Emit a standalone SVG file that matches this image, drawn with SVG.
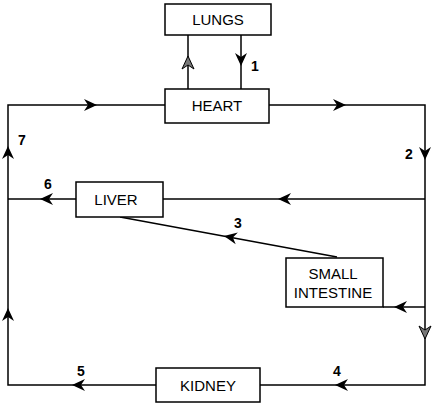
<svg xmlns="http://www.w3.org/2000/svg" width="434" height="407" viewBox="0 0 434 407">
<style>
.box{fill:#fff;stroke:#000;stroke-width:1.5}
.ln{fill:none;stroke:#000;stroke-width:1.5}
.lbl{font-family:"Liberation Sans",Arial,sans-serif;font-size:15px;fill:#000;text-anchor:middle}
.num{font-family:"Liberation Sans",Arial,sans-serif;font-size:14px;font-weight:bold;fill:#000;text-anchor:middle}
.ah{fill:#000}
.ahh{fill:#777;stroke:#000;stroke-width:1}
</style>
<defs>
<path id="arr" d="M0,0 L-13,-6 L-9,0 L-13,6 Z"/>
</defs>
<rect width="434" height="407" fill="#fff"/>
<g id="connectors">
<path class="ln" d="M188,89 V35"/>
<path class="ln" d="M241,35 V89"/>
<path class="ln" d="M269,105 H425 V385 H260"/>
<path class="ln" d="M156,385 H8 V105 H165"/>
<path class="ln" d="M76,199 H8"/>
<path class="ln" d="M163,199 H425" stroke-width="1.2"/>
<path class="ln" d="M425,307 H383"/>
<path class="ln" d="M337,257 L120,217"/>
<use href="#arr" class="ahh" transform="translate(188,56) rotate(-90)"/>
<use href="#arr" class="ah" transform="translate(241,66) rotate(90)"/>
<use href="#arr" class="ah" transform="translate(97,105)"/>
<use href="#arr" class="ah" transform="translate(346,105)"/>
<use href="#arr" class="ah" transform="translate(425,160) rotate(90)"/>
<use href="#arr" class="ah" transform="translate(278,199) rotate(180)"/>
<use href="#arr" class="ah" transform="translate(40,199) rotate(180)"/>
<use href="#arr" class="ah" transform="translate(224,236) rotate(190.4)"/>
<use href="#arr" class="ah" transform="translate(394,307) rotate(180)"/>
<use href="#arr" class="ahh" transform="translate(425,339) rotate(90)"/>
<use href="#arr" class="ah" transform="translate(335,385) rotate(180)"/>
<use href="#arr" class="ah" transform="translate(72,385) rotate(180)"/>
<use href="#arr" class="ah" transform="translate(8,146) rotate(-90)"/>
<use href="#arr" class="ah" transform="translate(8,308) rotate(-90)"/>
<text class="num" x="255" y="71">1</text>
<text class="num" x="409" y="159">2</text>
<text class="num" x="238" y="228">3</text>
<text class="num" x="337" y="376">4</text>
<text class="num" x="81" y="376">5</text>
<text class="num" x="48" y="189">6</text>
<text class="num" x="22" y="145">7</text>
</g>
<g id="lungs">
<rect class="box" x="165" y="4" width="106" height="31"/>
<text class="lbl" x="218" y="25">LUNGS</text>
</g>
<g id="heart">
<rect class="box" x="165" y="89" width="104" height="34"/>
<text class="lbl" x="217" y="111">HEART</text>
</g>
<g id="liver">
<rect class="box" x="76" y="182" width="87" height="35"/>
<text class="lbl" x="116" y="205">LIVER</text>
</g>
<g id="small-intestine">
<rect class="box" x="286" y="258" width="97" height="49"/>
<text class="lbl" x="333" y="279">SMALL</text>
<text class="lbl" x="333" y="298">INTESTINE</text>
</g>
<g id="kidney">
<rect class="box" x="156" y="368" width="104" height="34"/>
<text class="lbl" x="208" y="391">KIDNEY</text>
</g>
</svg>
